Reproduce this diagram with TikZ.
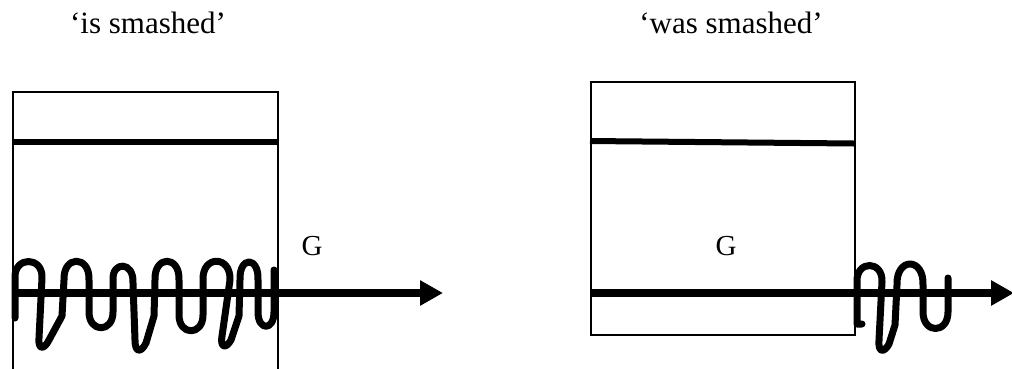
\documentclass[tikz,border=0pt]{standalone}
\usepackage{fontspec}
\setmainfont{Liberation Serif}
\usetikzlibrary{arrows.meta}
\begin{document}
\begin{tikzpicture}[x=1pt,y=-1pt,
  frame/.style={draw=black,line width=1.5pt,inner sep=0pt,anchor=north west},
  thickline/.style={line width=6pt},
  arrowline/.style={line width=8pt,-{Triangle[length=23pt,width=24pt]}},
  wiggle/.style={line width=7pt,line join=round,line cap=round},
  lbl/.style={font=\fontsize{31}{37}\selectfont,inner sep=0pt},
  gl/.style={font=\fontsize{29}{35}\selectfont,inner sep=0pt}]
\useasboundingbox (0,0) rectangle (1012,368);
\clip (0,0) rectangle (1012,368);
% labels
\node[lbl,anchor=base] (t1) at (148,33) {‘is smashed’};
\node[lbl,anchor=base] (t2) at (731,33) {‘was smashed’};
% left box
\node[frame,minimum width=265pt,minimum height=300pt] (b1) at (12,91) {};
\coordinate (l1a) at (12,142);
\coordinate (l1b) at (277,142);
\draw[thickline] (l1a) -- (l1b);
\coordinate (a1s) at (12,293);
\coordinate (a1e) at (443,293);
\draw[arrowline] (a1s) -- (a1e);
\node[gl] (g1) at (312,246) {G};
% left squiggle
\draw[wiggle] (15,318) -- (15,278)
 .. controls (14,256) and (43,256) .. (42,278)
 -- (39,338)
 .. controls (38,350) and (44,350) .. (49,340)
 -- (62,316) -- (64,280)
 .. controls (63,255) and (90,255) .. (89,280)
 -- (89,312)
 .. controls (89,333) and (113,333) .. (113,312)
 -- (113,280)
 .. controls (112,261) and (134,261) .. (133,283)
 -- (135,340)
 .. controls (135,353) and (141,353) .. (146,343)
 -- (154,316) -- (155,280)
 .. controls (154,255) and (180,255) .. (179,280)
 -- (179,315)
 .. controls (179,336) and (203,336) .. (203,315)
 -- (203,280)
 .. controls (202,255) and (231,255) .. (230,280)
 -- (222,336)
 .. controls (220,348) and (226,349) .. (231,340)
 -- (239,316) -- (240,280)
 .. controls (239,256) and (259,256) .. (258,280)
 -- (258,312)
 .. controls (258,331) and (274,331) .. (274,312)
 -- (274,270);
% right box
\node[frame,minimum width=264pt,minimum height=253pt] (b2) at (590,81) {};
\coordinate (l2a) at (590,141);
\coordinate (l2b) at (854,143.5);
\draw[thickline] (l2a) -- (l2b);
\coordinate (a2s) at (590,293);
\coordinate (a2e) at (1014,293);
\draw[arrowline] (a2s) -- (a2e);
\node[gl] (g2) at (726,246) {G};
% right squiggle
\draw[wiggle] (862,324) -- (857,324) -- (857,282)
 .. controls (856,260) and (883,260) .. (882,282)
 -- (879,340)
 .. controls (878,353) and (884,353) .. (889,344)
 -- (895,325) -- (897,285)
 .. controls (896,257) and (924,257) .. (923,285)
 -- (923,312)
 .. controls (923,334) and (948,334) .. (948,312)
 -- (948,278);
\end{tikzpicture}
\end{document}
